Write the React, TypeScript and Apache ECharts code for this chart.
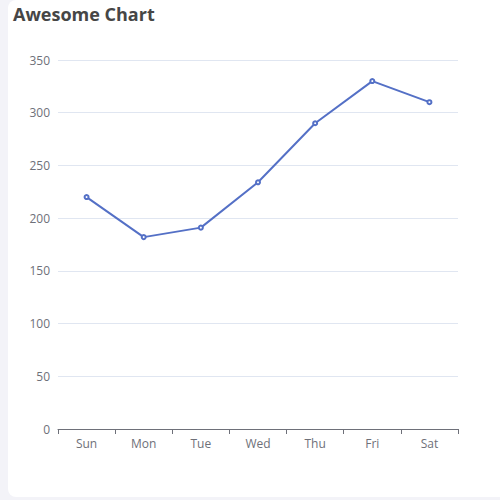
import * as echarts from 'echarts';
import { useEffect, useRef } from 'react';

const days = ['Sun', 'Mon', 'Tue', 'Wed', 'Thu', 'Fri', 'Sat'];
const visits = [220, 182, 191, 234, 290, 330, 310];

const App = () => {
  const chartRef = useRef<HTMLDivElement>(null);

  useEffect(() => {
    if (!chartRef.current) return;
    const chart = echarts.init(chartRef.current, undefined, { renderer: 'svg' });

    const option: echarts.EChartsOption = {
      animation: false,
      title: {
        text: 'Awesome Chart',
        left: 0,
        top: 0,
        textStyle: {
          color: '#464646',
          fontSize: 18,
          fontWeight: 'bold',
          fontFamily: 'Open Sans',
        },
      },
      grid: { left: 50, top: 60, width: 400, height: 369 },
      xAxis: {
        type: 'category',
        data: days,
        axisLabel: { color: '#6e7079', fontSize: 12, fontFamily: 'Open Sans' },
        axisLine: { lineStyle: { color: '#6e7079' } },
        axisTick: { show: true, length: 5, lineStyle: { color: '#6e7079' } },
      },
      yAxis: {
        type: 'value',
        min: 0,
        max: 350,
        interval: 50,
        axisLabel: { color: '#6e7079', fontSize: 12, fontFamily: 'Open Sans' },
        splitLine: { lineStyle: { color: '#e0e6f1' } },
      },
      series: [
        {
          type: 'line',
          data: visits,
          symbol: 'emptyCircle',
          symbolSize: 4,
          lineStyle: { color: '#5470c6', width: 2 },
          itemStyle: { color: '#5470c6' },
        },
      ],
    };

    chart.setOption(option);
    return () => {
      chart.dispose();
    };
  }, []);

  return (
    <div
      style={{
        position: 'fixed',
        left: 0,
        top: 0,
        width: 500,
        height: 500,
        background: '#f3f3f8',
        overflow: 'hidden',
      }}
    >
      <div
        style={{
          position: 'absolute',
          left: 8,
          top: 0,
          width: 500,
          height: 497,
          background: '#ffffff',
          borderRadius: 8,
        }}
      >
        <div ref={chartRef} style={{ width: 492, height: 497 }} />
      </div>
    </div>
  );
};

export default App;
